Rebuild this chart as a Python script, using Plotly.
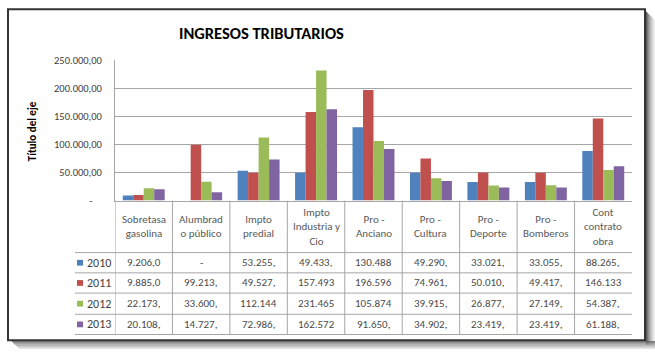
import plotly.graph_objects as go

# ---------------- data ----------------
categories = ["Sobretasa gasolina", "Alumbrado público", "Impto predial",
              "Impto Industria y Cio", "Pro - Anciano", "Pro - Cultura",
              "Pro - Deporte", "Pro - Bomberos", "Cont contrato obra"]
header_labels = ["Sobretasa<br>gasolina", "Alumbrad<br>o público", "Impto<br>predial",
                 "Impto<br>Industria y<br>Cio", "Pro -<br>Anciano", "Pro -<br>Cultura",
                 "Pro -<br>Deporte", "Pro -<br>Bomberos", "Cont<br>contrato<br>obra"]
years = ["2010", "2011", "2012", "2013"]
v2010 = [9206.0, None, 53255.0, 49433.0, 130488.0, 49290.0, 33021.0, 33055.0, 88265.0]
v2011 = [9885.0, 99213.0, 49527.0, 157493.0, 196596.0, 74961.0, 50010.0, 49417.0, 146133.0]
v2012 = [22173.0, 33600.0, 112144.0, 231465.0, 105874.0, 39915.0, 26877.0, 27149.0, 54387.0]
v2013 = [20108.0, 14727.0, 72986.0, 162572.0, 91650.0, 34902.0, 23419.0, 23419.0, 61188.0]
series = [v2010, v2011, v2012, v2013]
y_tickvals = [0, 50000, 100000, 150000, 200000, 250000]
y_ticktext = ["-\u00a0\u00a0\u00a0\u00a0", "50.000,00", "100.000,00", "150.000,00",
              "200.000,00", "250.000,00"]
colors = ["#4F81BD", "#C0504D", "#9BBB59", "#8064A2"]

W, H = 655, 355
FONT = "Carlito, Lato, 'Open Sans', sans-serif"


def px(x):
    return x / W


def py(y):
    return 1 - y / H


def cell_text(v):
    if v is None:
        return "-"
    s = f"{v:,.2f}".replace(",", "X").replace(".", ",").replace("X", ".")
    return s[:7]


fig = go.Figure()
for name, vals, col in zip(years, series, colors):
    fig.add_trace(go.Bar(x=list(range(len(categories))), y=vals, name=name,
                         marker=dict(color=col, line=dict(width=0)),
                         hovertext=categories))

PLOT_L, PLOT_R, PLOT_T, PLOT_B = 115, 632, 56, 202
GRID = "#a6a6a6"

fig.update_layout(
    width=W, height=H, margin=dict(l=0, r=0, t=0, b=0),
    paper_bgcolor="white", plot_bgcolor="white",
    barmode="group", bargap=0.27, bargroupgap=0,
    showlegend=False,
    font=dict(family=FONT, color="#404040", size=11),
    xaxis=dict(domain=[px(PLOT_L), px(PLOT_R)], range=[-0.5, len(categories) - 0.5],
               showticklabels=False, showgrid=False, zeroline=False,
               showline=True, linecolor=GRID, linewidth=1, ticks=""),
    yaxis=dict(domain=[py(PLOT_B), py(PLOT_T)], range=[0, 250000],
               tickvals=y_tickvals, ticktext=y_ticktext,
               showgrid=True, gridcolor=GRID, gridwidth=1, zeroline=False,
               showline=True, linecolor=GRID, linewidth=1,
               ticks="outside", ticklen=10, tickcolor="rgba(0,0,0,0)",
               tickfont=dict(size=10.5, color="#404040")),
)

ann = []
# title
ann.append(dict(text="<b>INGRESOS TRIBUTARIOS</b>", x=px(261), y=py(28), xref="paper", yref="paper",
                showarrow=False, xanchor="center", yanchor="middle",
                font=dict(family="'Liberation Sans Narrow', " + FONT, size=16.5, color="#000000")))
# y axis title
ann.append(dict(text="<b>Título del eje</b>", x=px(32), y=py(130), xref="paper", yref="paper",
                showarrow=False, textangle=-90, xanchor="center", yanchor="middle",
                font=dict(size=11, color="#000000")))

# table header
for i, lab in enumerate(header_labels):
    ann.append(dict(text=lab, x=i, y=py(229), xref="x", yref="paper", showarrow=False,
                    xanchor="center", yanchor="middle", align="center",
                    font=dict(size=11, color="#595959")))

row_centers = [266.5, 287.5, 309, 330.5]
for r, (yr, vals, col) in enumerate(zip(years, series, colors)):
    yc = row_centers[r]
    ann.append(dict(text=yr, x=px(113), y=py(yc), xref="paper", yref="paper", showarrow=False,
                    xanchor="right", yanchor="middle", font=dict(size=12, color="#404040")))
    for i, v in enumerate(vals):
        ann.append(dict(text=cell_text(v), x=i, y=py(yc), xref="x", yref="paper", showarrow=False,
                        xanchor="center", yanchor="middle", font=dict(size=11, color="#4a4a4a")))

shapes = []
# legend key squares
for r, col in enumerate(colors):
    yc = row_centers[r]
    shapes.append(dict(type="rect", xref="paper", yref="paper", x0=px(77), x1=px(83),
                       y0=py(yc + 3), y1=py(yc - 3), fillcolor=col, line=dict(width=0)))
# table lines
for yl in [256, 277, 298, 320, 341]:
    shapes.append(dict(type="line", xref="paper", yref="paper", x0=px(75), x1=px(PLOT_R),
                       y0=py(yl), y1=py(yl), line=dict(color=GRID, width=1)))
for i in range(len(categories)):
    shapes.append(dict(type="line", xref="x", yref="paper", x0=i - 0.5, x1=i - 0.5,
                       y0=py(PLOT_B), y1=py(341), line=dict(color=GRID, width=1)))

# outer frame with shadow
shadow = ["#5a5a5a", "#777777", "#8f8f8f", "#a5a5a5", "#b8b8b8", "#c9c9c9", "#d8d8d8",
          "#e4e4e4", "#eeeeee", "#f6f6f6"]
for k, c in enumerate(shadow):
    shapes.append(dict(type="rect", xref="paper", yref="paper", x0=px(646 + k), x1=px(647 + k),
                       y0=py(354), y1=py(6 + k), fillcolor=c, line=dict(width=0), layer="above"))
for k, c in enumerate(shadow[:8]):
    shapes.append(dict(type="rect", xref="paper", yref="paper", x0=px(12 + k), x1=px(655),
                       y0=py(348 + k), y1=py(349 + k), fillcolor=c, line=dict(width=0), layer="above"))
shapes.append(dict(type="rect", xref="paper", yref="paper", x0=px(8), x1=px(645),
                   y0=py(347), y1=py(3.5), line=dict(color="#333333", width=2),
                   fillcolor="rgba(0,0,0,0)", layer="above"))

fig.update_layout(annotations=ann, shapes=shapes)
fig.write_html("out.html")
